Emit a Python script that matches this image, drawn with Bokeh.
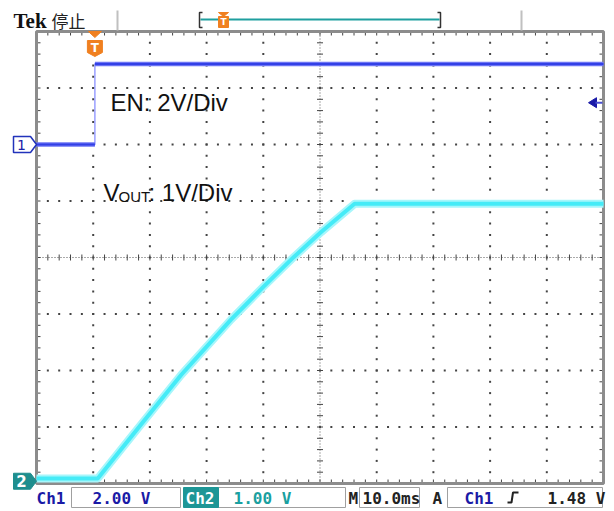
import numpy as np
from bokeh.plotting import figure
from bokeh.models import Range1d, Label
from bokeh.embed import file_html
from bokeh.resources import INLINE

# ---------------- data ----------------
ch1_t = [-10.3, 0.0, 0.0, 89.7]          # ms  (EN)
ch1_v = [0.0, 0.0, 2.85, 2.85]           # V
ch2_t = [-10.3, 0.5, 8.1, 15.2, 24.0, 29.8, 35.1, 39.9, 45.8, 89.7]   # ms (VOUT)
ch2_v = [0.05, 0.05, 1.00, 1.88, 2.86, 3.45, 3.97, 4.41, 4.91, 4.91]  # V
ch1_scale = 2.0      # V/div
ch2_scale = 1.0      # V/div
time_scale = 10.0    # ms/div
ch1_pos = 2.0        # div
ch2_pos = -3.96      # div
trig_level = 1.48    # V
t_left = -10.3       # ms at left edge of graticule
status_labels = ["Ch1", "2.00 V", "Ch2", "1.00 V", "M", "10.0ms", "A", "Ch1", "1.48 V"]
header_labels = ["Tek", "停止"]
trace_labels = ["EN: 2V/Div", "V", "OUT", ": 1V/Div"]

# ---------------- layout (page pixels) ----------------
W, H = 614, 511
OX, OY = 0, 0
GL, GR, GT, GB = 36.0, 603.0, 31.0, 483.0
PXX = (GR - GL) / 10.0
PXY = (GB - GT) / 8.0
CY = (GT + GB) / 2.0
BL = 6.5   # baseline correction for alphabetic text in svg


def X(px):
    return t_left + (px - GL) / PXX * time_scale


def Y(py):
    return (CY - py) / PXY


def dX(px):
    return px / PXX * time_scale


def dY(py):
    return py / PXY


y0, y1 = Y(OY + H), Y(OY)
p = figure(width=W, height=H, x_range=Range1d(X(OX), X(OX + W)), y_range=Range1d(y0, y1),
           output_backend="svg", toolbar_location=None, min_border=0,
           x_axis_location=None, y_axis_location=None,
           background_fill_color="white", border_fill_color="white", outline_line_color=None)
p.grid.visible = False
p.extra_y_ranges = {
    "ch1": Range1d((y0 - ch1_pos) * ch1_scale, (y1 - ch1_pos) * ch1_scale),
    "ch2": Range1d((y0 - ch2_pos) * ch2_scale, (y1 - ch2_pos) * ch2_scale),
}

# ---------------- graticule ----------------
maj_x = [X(GL + i * PXX) for i in range(11)]
maj_y = [Y(GT + j * PXY) for j in range(9)]
fine_x = [X(GL + k * PXX / 5) for k in range(51)]
fine_y = [Y(GT + k * PXY / 5) for k in range(41)]
dx_, dy_ = [], []
for i in range(1, 10):
    if i == 5:
        continue
    for fy in fine_y[1:-1]:
        dx_.append(maj_x[i]); dy_.append(fy)
for j in range(1, 8):
    if j == 4:
        continue
    for fx in fine_x[1:-1]:
        dx_.append(fx); dy_.append(maj_y[j])
p.scatter(dx_, dy_, marker="square", size=2, fill_color="#444444", line_color=None)

# center cross
p.line([maj_x[0], maj_x[10]], [0, 0], line_color="#555555", line_width=1, line_dash="1 2")
p.line([maj_x[5], maj_x[5]], [maj_y[8], maj_y[0]], line_color="#555555", line_width=1, line_dash="1 2")
tk = 3
p.segment(x0=fine_x, y0=[dY(tk)] * 51, x1=fine_x, y1=[-dY(tk)] * 51, line_color="#444444", line_width=1)
p.segment(x0=[maj_x[5] - dX(tk)] * 41, y0=fine_y, x1=[maj_x[5] + dX(tk)] * 41, y1=fine_y,
          line_color="#444444", line_width=1)
# border ticks
p.segment(x0=fine_x, y0=[maj_y[0]] * 51, x1=fine_x, y1=[maj_y[0] - dY(4)] * 51, line_color="#444444")
p.segment(x0=fine_x, y0=[maj_y[8]] * 51, x1=fine_x, y1=[maj_y[8] + dY(4)] * 51, line_color="#444444")
p.segment(x0=[maj_x[0]] * 41, y0=fine_y, x1=[maj_x[0] + dX(4)] * 41, y1=fine_y, line_color="#444444")
p.segment(x0=[maj_x[10]] * 41, y0=fine_y, x1=[maj_x[10] - dX(4)] * 41, y1=fine_y, line_color="#444444")
p.quad(left=[maj_x[0]], right=[maj_x[10]], top=[maj_y[0]], bottom=[maj_y[8]],
       fill_alpha=0, line_color="#8c8c8c", line_width=3)

# ---------------- traces ----------------
# VOUT (Ch2)
p.line(ch2_t, ch2_v, y_range_name="ch2", line_color="#a6f6fb", line_width=8, line_join="round")
p.line(ch2_t, ch2_v, y_range_name="ch2", line_color="#45ebf7", line_width=4, line_join="round")
# EN (Ch1)
p.line(ch1_t, ch1_v, y_range_name="ch1", line_color="#8a90ff", line_width=1.3)
flat = [i for i in range(len(ch1_t) - 1) if ch1_v[i] == ch1_v[i + 1]]
p.segment(x0=[ch1_t[i] for i in flat], y0=[ch1_v[i] for i in flat],
          x1=[ch1_t[i + 1] for i in flat], y1=[ch1_v[i + 1] for i in flat],
          y_range_name="ch1", line_color="#6c74f5", line_width=4.5)
p.segment(x0=[ch1_t[i] for i in flat], y0=[ch1_v[i] for i in flat],
          x1=[ch1_t[i + 1] for i in flat], y1=[ch1_v[i + 1] for i in flat],
          y_range_name="ch1", line_color="#3340e6", line_width=1.8)

# ---------------- trace labels ----------------
F = "Liberation Sans"
p.add_layout(Label(x=X(110), y=Y(108 - BL), text=trace_labels[0], text_font=F, text_font_size="24px",
                   text_color="#111111", text_baseline="alphabetic"))
p.add_layout(Label(x=X(103), y=Y(198 - BL), text=trace_labels[1], text_font=F, text_font_size="24px",
                   text_color="#111111", text_baseline="alphabetic"))
p.add_layout(Label(x=X(118), y=Y(200 - BL * 0.6), text=trace_labels[2], text_font=F, text_font_size="15px",
                   text_color="#111111", text_baseline="alphabetic"))
p.add_layout(Label(x=X(148), y=Y(198 - BL), text=trace_labels[3], text_font=F, text_font_size="24px",
                   text_color="#111111", text_baseline="alphabetic"))

# ---------------- channel markers ----------------
def poly(pts):
    return [X(a) for a, b in pts], [Y(b) for a, b in pts]

m1y = CY - ch1_pos * PXY
xs, ys = poly([(13, m1y - 8), (30, m1y - 8), (36, m1y), (30, m1y + 8), (13, m1y + 8)])
p.patch(xs, ys, fill_color="white", line_color="#2233bb", line_width=1.5)
p.add_layout(Label(x=X(21), y=Y(m1y), text="1", text_font="DejaVu Sans", text_font_size="14px",
                   text_color="#1a22a8", text_align="center", text_baseline="middle"))
m2y = CY - ch2_pos * PXY
xs, ys = poly([(13, m2y - 8), (30, m2y - 8), (36, m2y), (30, m2y + 8), (13, m2y + 8)])
p.patch(xs, ys, fill_color="#1e8e8e", line_color="#1e8e8e", line_width=1)
p.add_layout(Label(x=X(21), y=Y(m2y), text="2", text_font="DejaVu Sans", text_font_size="15px",
                   text_font_style="bold", text_color="white", text_align="center", text_baseline="middle"))

# trigger level arrow (right side)
ty = CY - (ch1_pos + trig_level / ch1_scale) * PXY
xs, ys = poly([(588, ty), (596, ty - 5), (596, ty + 5)])
p.patch(xs, ys, fill_color="#1a1aa8", line_color="#1a1aa8")
p.line([X(595), X(602)], [Y(ty), Y(ty)], line_color="#4a50d0", line_width=2)

# trigger position marker
tx = GL + (0 - t_left) / time_scale * PXX
xs, ys = poly([(tx - 6.5, 31), (tx + 6.5, 31), (tx, 37)])
p.patch(xs, ys, fill_color="#f08020", line_color="#f08020")
xs, ys = poly([(tx - 7.5, 40), (tx + 7.5, 40), (tx + 7.5, 52), (tx, 56), (tx - 7.5, 52)])
p.patch(xs, ys, fill_color="#f08020", line_color="#f08020")
p.add_layout(Label(x=X(tx), y=Y(47), text="T", text_font="DejaVu Sans", text_font_size="12px",
                   text_font_style="bold", text_color="white", text_align="center", text_baseline="middle"))

# ---------------- header ----------------
p.add_layout(Label(x=X(13), y=Y(27 - BL), text=header_labels[0], text_font="Liberation Serif",
                   text_font_size="21px", text_font_style="bold", text_color="#111111",
                   text_baseline="alphabetic"))
p.add_layout(Label(x=X(51), y=Y(19.5), text=header_labels[1], text_font="Noto Sans CJK SC",
                   text_font_size="17px", text_color="#222222", text_baseline="middle"))
for sx in (117, 521):
    p.line([X(sx), X(sx)], [Y(10), Y(30)], line_color="#c0c0c0", line_width=2)
p.line([X(200), X(439)], [Y(19), Y(19)], line_color="#1f9f9f", line_width=2)
p.line([X(202), X(199), X(199), X(202)], [Y(12), Y(12), Y(27), Y(27)], line_color="#333333", line_width=1.5)
p.line([X(437), X(440), X(440), X(437)], [Y(12), Y(12), Y(27), Y(27)], line_color="#333333", line_width=1.5)
xs, ys = poly([(218, 12), (228, 12), (223, 16)])
p.patch(xs, ys, fill_color="#f08020", line_color="#f08020")
xs, ys = poly([(218, 16), (228, 16), (228, 27), (218, 27)])
p.patch(xs, ys, fill_color="#f08020", line_color="#f08020")
p.add_layout(Label(x=X(223), y=Y(21.5), text="T", text_font="DejaVu Sans", text_font_size="9px",
                   text_font_style="bold", text_color="white", text_align="center", text_baseline="middle"))

# ---------------- status bar ----------------
boxes = [(71, 180), (218, 345), (359, 419), (447, 602)]
p.quad(left=[X(a) for a, b in boxes], right=[X(b) for a, b in boxes],
       top=[Y(487)] * 4, bottom=[Y(507)] * 4, fill_color="white", line_color="#a0a0a0", line_width=1)
p.quad(left=[X(183)], right=[X(218)], top=[Y(487)], bottom=[Y(507)], fill_color="#1e9696", line_color="#1e9696")
SF = "DejaVu Sans Mono"
s_pos = [36, 92, 185, 233, 348, 362, 432, 464, 547]
s_col = ["#1a1aa6", "#1a1aa6", "white", "#1aa0a0", "#222222", "#222222", "#222222", "#1a1aa6", "#222222"]
for txt, sx, col in zip(status_labels, s_pos, s_col):
    p.add_layout(Label(x=X(sx), y=Y(503 - 5), text=txt, text_font=SF, text_font_size="16px",
                       text_font_style="bold", text_color=col, text_baseline="alphabetic"))
p.line([X(507), X(511), X(512.5), X(518)], [Y(502), Y(502), Y(492), Y(492)], line_color="#222222", line_width=2)

open("out.html", "w").write(file_html(p, INLINE))
